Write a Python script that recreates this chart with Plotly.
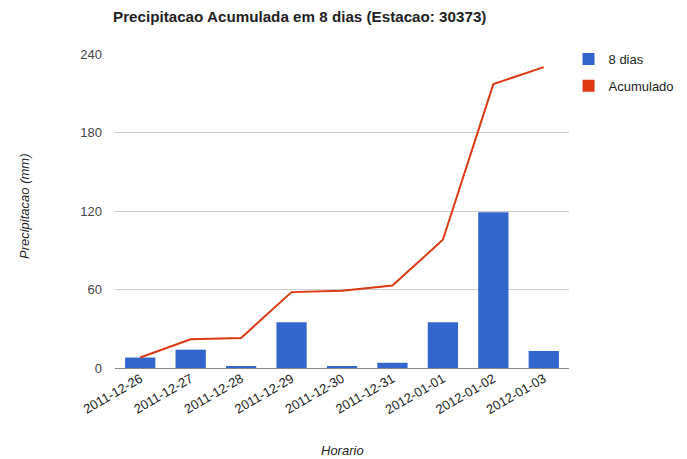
import plotly.graph_objects as go

# Daily precipitation at station 30373 and the running total (mm)
dias = ["2011-12-26", "2011-12-27", "2011-12-28", "2011-12-29", "2011-12-30",
        "2011-12-31", "2012-01-01", "2012-01-02", "2012-01-03"]
precip_8dias = [8, 14, 1, 35, 1, 4, 35, 119, 13]
acumulado = [8, 22, 23, 58, 59, 63, 98, 217, 230]
y_ticks = [0, 60, 120, 180, 240]

AZUL = "#3366cc"
VERMELHO = "#dc3912"
FONTE = "Arial, Liberation Sans, sans-serif"

fig = go.Figure()

fig.add_trace(go.Bar(
    x=dias, y=precip_8dias, name="8 dias",
    marker=dict(color=AZUL, line=dict(width=0)),
    width=0.6, showlegend=False,
))
fig.add_trace(go.Scatter(
    x=dias, y=acumulado, name="Acumulado", mode="lines",
    line=dict(color=VERMELHO, width=2), showlegend=False,
))

# square swatches for the legend
for nome, cor in [("8 dias", AZUL), ("Acumulado", VERMELHO)]:
    fig.add_trace(go.Scatter(
        x=[None], y=[None], name=nome, mode="markers", legendgroup=nome,
        marker=dict(symbol="square", size=12, color=cor),
    ))

fig.update_layout(
    width=687, height=459,
    margin=dict(l=115, r=118, t=54, b=91, autoexpand=False),
    paper_bgcolor="white", plot_bgcolor="white",
    font=dict(family=FONTE, size=13, color="#222"),
    barmode="overlay",
    title=dict(
        text="<b>Precipitacao Acumulada em 8 dias (Estacao: 30373)</b>",
        x=113 / 687, xanchor="left", xref="container",
        y=1 - 17 / 459, yanchor="middle", yref="container",
        font=dict(size=15.2, color="#222", family=FONTE),
    ),
    legend=dict(
        x=0.999, y=1.032, xanchor="left", yanchor="top",
        font=dict(size=13, color="#222"),
        tracegroupgap=7, bgcolor="rgba(0,0,0,0)",
    ),
    showlegend=True,
    xaxis=dict(
        type="category", tickangle=-30, showgrid=False, ticks="",
        tickfont=dict(size=13, color="#222"),
        showline=False, zeroline=False,
    ),
    yaxis=dict(
        range=[0, 240], tickvals=y_ticks,
        showgrid=True, gridcolor="#cccccc", gridwidth=1,
        zeroline=True, zerolinecolor="#888888", zerolinewidth=1,
        tickfont=dict(size=13, color="#444"), ticks="",
        ticklabelstandoff=12,
    ),
    annotations=[
        dict(text="<i>Horario</i>", x=0.5, xref="paper",
             y=-(450 - 368) / 314, yref="paper", yanchor="middle",
             showarrow=False, font=dict(size=13, color="#222")),
        dict(text="<i>Precipitacao (mm)</i>", textangle=-90,
             x=-(115 - 24) / 454, xref="paper", xanchor="center",
             y=(368 - 207) / 314, yref="paper", yanchor="middle",
             showarrow=False, font=dict(size=13, color="#222")),
    ],
)

fig.write_html("out.html")
